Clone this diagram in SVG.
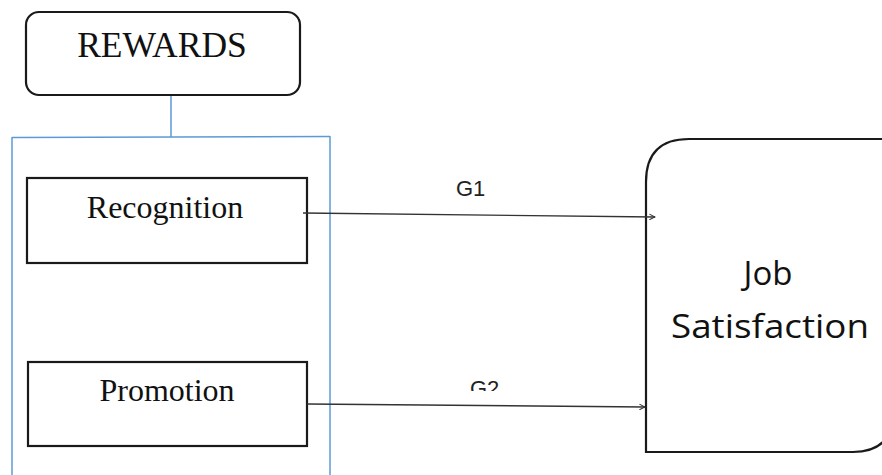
<svg xmlns="http://www.w3.org/2000/svg" width="882" height="475" viewBox="0 0 882 475">
  <style>
    .box { fill: #fff; stroke: #1a1a1a; stroke-width: 2.2; }
    .frame { fill: none; stroke: #5b9bd5; stroke-width: 1.5; }
    .serif { font-family: "Liberation Serif", "Times New Roman", serif; fill: #111; }
    .sans { font-family: "Open Sans", "Liberation Sans", Arial, sans-serif; fill: #111; }
    .label { font-family: "Liberation Sans", Arial, sans-serif; fill: #222; font-size: 22px; }
    .link { fill: none; stroke: #333; stroke-width: 1.4; }
  </style>
  <defs>
    <marker id="arrow" viewBox="0 0 10 10" refX="9" refY="5" markerWidth="7" markerHeight="7" orient="auto" markerUnits="userSpaceOnUse">
      <path d="M1,1 L9,5 L1,9" fill="none" stroke="#333" stroke-width="1.5"/>
    </marker>
    <clipPath id="g2clip">
      <rect x="440" y="360" width="100" height="31"/>
    </clipPath>
  </defs>

  <rect width="882" height="475" fill="#fff"/>

  <!-- grouping frame under REWARDS -->
  <g id="rewards-frame">
    <line class="frame" x1="171" y1="95" x2="171" y2="137"/>
    <line class="frame" x1="12" y1="137.5" x2="330" y2="136.5"/>
    <line class="frame" x1="12" y1="137" x2="12" y2="475"/>
    <line class="frame" x1="330" y1="136" x2="330" y2="475"/>
  </g>

  <g id="rewards">
    <rect class="box" x="26" y="12" width="274" height="83" rx="13"/>
    <text class="serif" x="162" y="57" font-size="35.5" text-anchor="middle">REWARDS</text>
  </g>

  <g id="recognition">
    <rect class="box" x="27" y="178" width="280" height="85"/>
    <text class="serif" x="165" y="218" font-size="32" text-anchor="middle">Recognition</text>
  </g>

  <g id="promotion">
    <rect class="box" x="28" y="362" width="279" height="84"/>
    <text class="serif" x="167" y="401" font-size="32" text-anchor="middle">Promotion</text>
  </g>

  <!-- target box: rounded top-left and bottom-right corners -->
  <g id="job-satisfaction">
    <path class="box" d="M646,452 L646,182 Q646,139 689,139 L893,139 L893,412 Q893,452 853,452 Z"/>
    <text class="sans" x="768" y="285" font-size="33" text-anchor="middle">Job</text>
    <text class="sans" x="671" y="338" font-size="33" textLength="198" lengthAdjust="spacingAndGlyphs">Satisfaction</text>
  </g>

  <g id="connectors">
    <line class="link" x1="303" y1="213" x2="655" y2="217" marker-end="url(#arrow)"/>
    <text class="label" x="456" y="196">G1</text>
    <line class="link" x1="307" y1="404" x2="645" y2="407" marker-end="url(#arrow)"/>
    <text class="label" x="470" y="396" clip-path="url(#g2clip)">G2</text>
  </g>
</svg>
